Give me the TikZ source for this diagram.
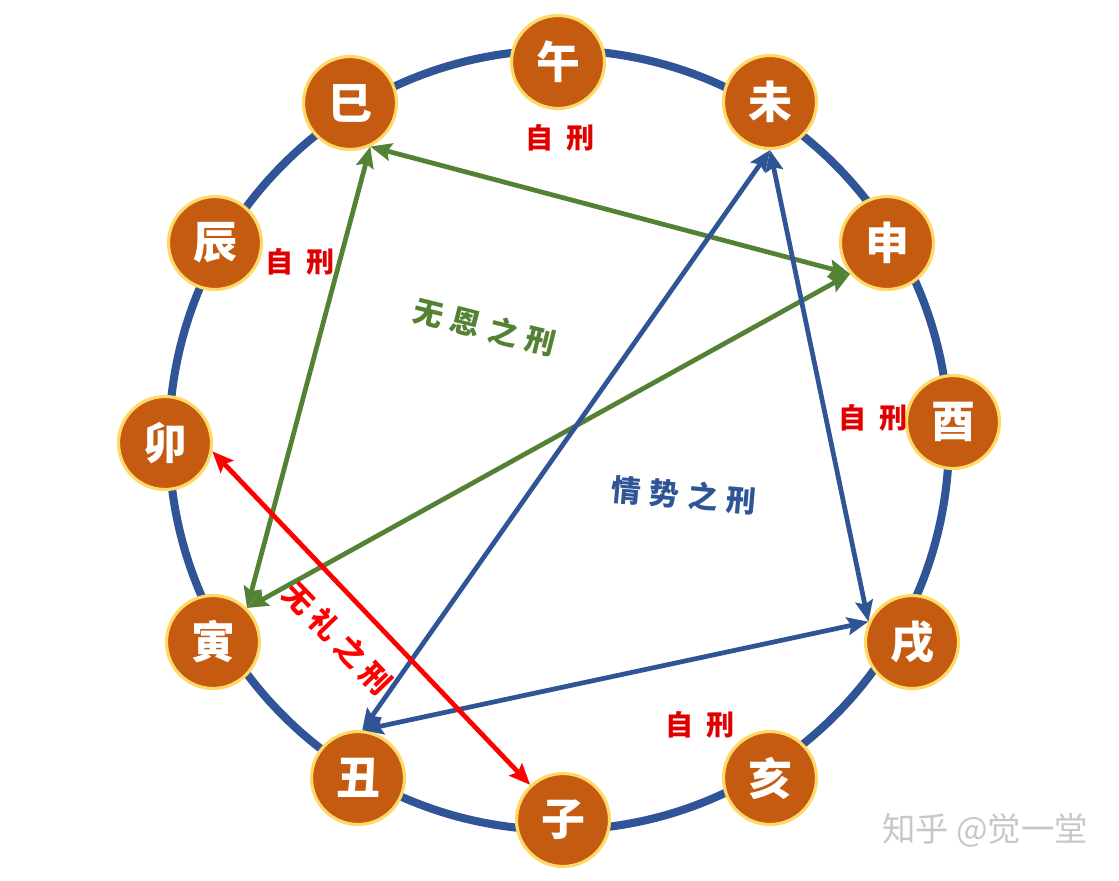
\documentclass[tikz,border=0pt]{standalone}
\usepackage{fontspec}
\setmainfont{Noto Sans CJK SC}
\usepackage{tikz}
\usetikzlibrary{arrows.meta}
\definecolor{ringblue}{HTML}{2F5597}
\definecolor{nodefill}{HTML}{C55A11}
\definecolor{nodering}{HTML}{FFD966}
\definecolor{grnline}{HTML}{548235}
\definecolor{redline}{HTML}{FF0000}
\definecolor{lblred}{HTML}{E00000}

\begin{document}
\begin{tikzpicture}[x=0.02cm, y=-0.02cm,
  branch/.style={circle, fill=nodefill, draw=nodering, line width=1.8pt,
    minimum size=1.86cm, inner sep=0pt, text=white,
    font=\fontsize{25}{25}\selectfont\bfseries},
  xing/.style={line width=2.7pt,
    {Stealth[length=12pt,width=10pt,inset=2pt]}-{Stealth[length=12pt,width=10pt,inset=2pt]}},
  selflbl/.style={text=lblred, font=\fontsize{16}{16}\selectfont\bfseries},
  kindlbl/.style={font=\fontsize{17}{17}\selectfont\bfseries}]

  \useasboundingbox (0,0) rectangle (1119,880);

	%ring
  \draw[ringblue, line width=4.6pt] (559,440) circle[radius=7.8cm];

	%branches
  \foreach \x/\y/\ch/\name in {558/62/午/wu, 770/102/未/wei, 887/243/申/shen, 953/422/酉/you,
      912/642/戌/xu, 770/778/亥/hai, 563/820/子/zi, 358/778/丑/chou,
      213/642/寅/yin, 165/443/卯/mao, 215/243/辰/chen, 350/103/巳/si}{
    \node[branch] (\name) at (\x,\y) {\ch};
  }

	%wu en
  \draw[xing, grnline] (si.-65) -- (shen.-140);
  \draw[xing, grnline] (si.-65) -- (yin.45);
  \draw[xing, grnline] (shen.-140) -- (yin.45);

	%qing shi
  \draw[xing, ringblue] (wei.-90) -- (chou.85);
  \draw[xing, ringblue] (wei.-90) -- (xu.155);
  \draw[xing, ringblue] (xu.155) -- (chou.85);

	%wu li
  \draw[xing, redline] (mao.-10) -- (zi.133);

	%labels
  \foreach \x/\y/\name in {560/138/zwu, 300/262/zchen, 873/418/zyou, 700/725/zhai}{
    \node[selflbl] (\name) at (\x,\y) {自\hspace{7pt}刑};
  }
  \node[kindlbl, text=grnline, rotate=-14] (wuen) at (485,327) {无\hspace{5pt}恩\hspace{5pt}之\hspace{5pt}刑};
  \node[kindlbl, text=ringblue, rotate=-5] (qingshi) at (684,495) {情\hspace{5pt}势\hspace{5pt}之\hspace{5pt}刑};
  \node[kindlbl, text=redline, rotate=-46] (wuli) at (338,638) {无\hspace{4pt}礼\hspace{4pt}之\hspace{4pt}刑};

  \node[text=black!22, font=\fontsize{19}{19}\selectfont] (mark) at (985,830) {知乎 @觉一堂};

\end{tikzpicture}
\end{document}
